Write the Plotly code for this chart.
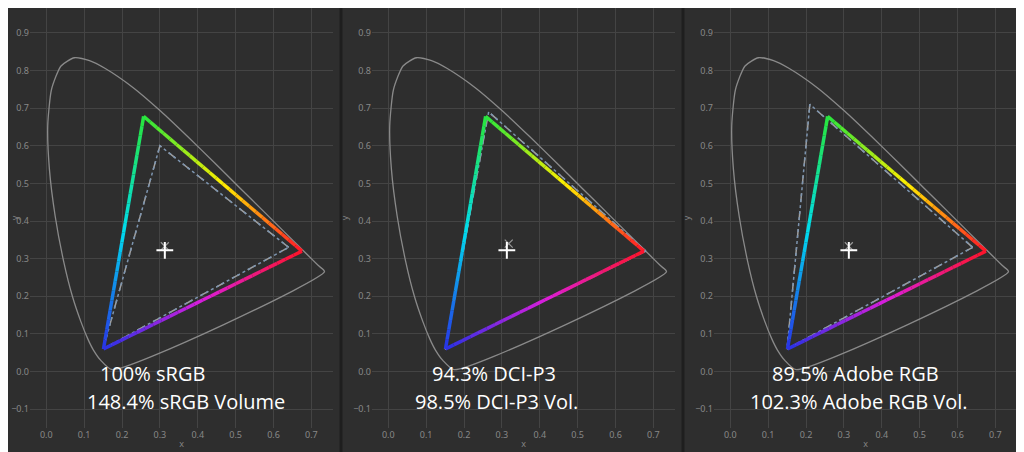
import plotly.graph_objects as go

locus_x = [0.1741,0.1440,0.1241,0.1096,0.0913,0.0687,0.0454,0.0235,0.0082,0.0039,0.0139,0.0389,0.0743,0.1142,0.1547,0.2296,0.3016,0.3731,0.4441,0.5125,0.5752,0.6270,0.6915,0.7190,0.7347,0.1741]
locus_y = [0.0050,0.0297,0.0578,0.0868,0.1327,0.2007,0.2950,0.4127,0.5384,0.6548,0.7502,0.8120,0.8338,0.8262,0.8059,0.7543,0.6923,0.6245,0.5547,0.4866,0.4242,0.3725,0.3083,0.2809,0.2653,0.0050]

# measured gamut (R, G, B)
meas_x = [0.675, 0.257, 0.151]
meas_y = [0.320, 0.678, 0.060]
white_x, white_y = 0.313, 0.322

ref_names = ["sRGB", "DCI-P3", "Adobe RGB"]
ref_x = [[0.64, 0.30, 0.15], [0.68, 0.265, 0.15], [0.64, 0.21, 0.15]]
ref_y = [[0.33, 0.60, 0.06], [0.32, 0.69, 0.06], [0.33, 0.71, 0.06]]
ref_white = [(0.313, 0.333), (0.318, 0.340), (0.313, 0.333)]
label1 = ["100% sRGB", "94.3% DCI-P3", "89.5% Adobe RGB"]
label2 = ["148.4% sRGB Volume", "98.5% DCI-P3 Vol.", "102.3% Adobe RGB Vol."]

vert_colors = {"R": (255, 20, 40), "G": (40, 230, 60), "B": (40, 50, 230)}
mid_colors = {("G", "R"): (255, 240, 0), ("B", "G"): (0, 220, 240), ("R", "B"): (220, 30, 220)}

W, H = 1016, 444
xdoms = [[22 / W, 325 / W], [364 / W, 667 / W], [706 / W, 1009 / W]]
fig = go.Figure()

def lerp(a, b, t):
    return tuple(a[i] + (b[i] - a[i]) * t for i in range(3))

def edge_color(c0, cm, c1, t):
    return lerp(c0, cm, t * 2) if t < 0.5 else lerp(cm, c1, (t - 0.5) * 2)

for p in range(3):
    xa = "x" if p == 0 else f"x{p+1}"
    ya = "y" if p == 0 else f"y{p+1}"
    fig.add_trace(go.Scatter(x=locus_x, y=locus_y, mode="lines", line=dict(color="#8a8a8a", width=1.3, shape="spline", smoothing=0.6), xaxis=xa, yaxis=ya, showlegend=False))
    rx = ref_x[p] + [ref_x[p][0]]
    ry = ref_y[p] + [ref_y[p][0]]
    fig.add_trace(go.Scatter(x=rx, y=ry, mode="lines", line=dict(color="#a0a0a0", width=1.5, dash="dash"), xaxis=xa, yaxis=ya, showlegend=False))
    fig.add_trace(go.Scatter(x=rx, y=ry, mode="lines", line=dict(color="#7d95b0", width=1.5, dash="dot"), xaxis=xa, yaxis=ya, showlegend=False))
    names = ["R", "G", "B"]
    pts = dict(zip(names, zip(meas_x, meas_y)))
    for a, b in [("G", "R"), ("B", "G"), ("R", "B")]:
        n = 24
        for i in range(n):
            t0, t1 = i / n, (i + 1) / n
            xa0 = pts[a][0] + (pts[b][0] - pts[a][0]) * t0
            ya0 = pts[a][1] + (pts[b][1] - pts[a][1]) * t0
            xa1 = pts[a][0] + (pts[b][0] - pts[a][0]) * t1
            ya1 = pts[a][1] + (pts[b][1] - pts[a][1]) * t1
            c = edge_color(vert_colors[a], mid_colors[(a, b)], vert_colors[b], (t0 + t1) / 2)
            fig.add_trace(go.Scatter(x=[xa0, xa1], y=[ya0, ya1], mode="lines",
                                     line=dict(color="rgb(%d,%d,%d)" % c, width=3.5),
                                     xaxis=xa, yaxis=ya, showlegend=False, hoverinfo="skip"))
    fig.add_trace(go.Scatter(x=[ref_white[p][0]], y=[ref_white[p][1]], mode="markers",
                             marker=dict(symbol="x-thin", size=8, line=dict(color="#999", width=1.2)),
                             xaxis=xa, yaxis=ya, showlegend=False))
    fig.add_trace(go.Scatter(x=[white_x], y=[white_y], mode="markers",
                             marker=dict(symbol="cross-thin", size=12, line=dict(color="white", width=2)),
                             xaxis=xa, yaxis=ya, showlegend=False))
    ax = dict(domain=xdoms[p], range=[-0.043, 0.757], dtick=0.1, tickformat=".1f", showgrid=True,
              gridcolor="#444", zeroline=False, tickfont=dict(color="#888", size=9, family="Noto Sans"),
              title=dict(text="x", font=dict(color="#888", size=9), standoff=0), ticks="", showline=False,
              automargin=False)
    ayd = dict(domain=[24 / H, 1.0], range=[-0.15, 0.966], dtick=0.1, tickformat=".1f", showgrid=True,
               gridcolor="#444", zeroline=False, tickfont=dict(color="#888", size=9, family="Noto Sans"),
               title=dict(text="y", font=dict(color="#888", size=9), standoff=2), anchor=xa,
               automargin=False)
    ax["anchor"] = ya
    key = "" if p == 0 else str(p + 1)
    fig.update_layout(**{"xaxis" + key: ax, "yaxis" + key: ayd})
    fig.add_annotation(text=label1[p], x=0.28 if p != 2 else 0.33, y=-0.005, xref=xa, yref=ya, showarrow=False,
                       xanchor="center", font=dict(color="white", size=20, family="Open Sans"))
    fig.add_annotation(text=label2[p], x=0.37 if p == 0 else (0.285 if p == 1 else 0.34), y=-0.08, xref=xa, yref=ya, showarrow=False,
                       xanchor="center", font=dict(color="white", size=20, family="Open Sans"))

for xs in [333 / W, 675 / W]:
    fig.add_shape(type="line", xref="paper", yref="paper", x0=xs, x1=xs, y0=0, y1=1,
                  line=dict(color="#1e1e1e", width=3))

fig.update_layout(width=W, height=H, margin=dict(l=0, r=0, t=0, b=0),
                  paper_bgcolor="#2e2e2e", plot_bgcolor="#2e2e2e", showlegend=False)
fig.write_html("out.html")
